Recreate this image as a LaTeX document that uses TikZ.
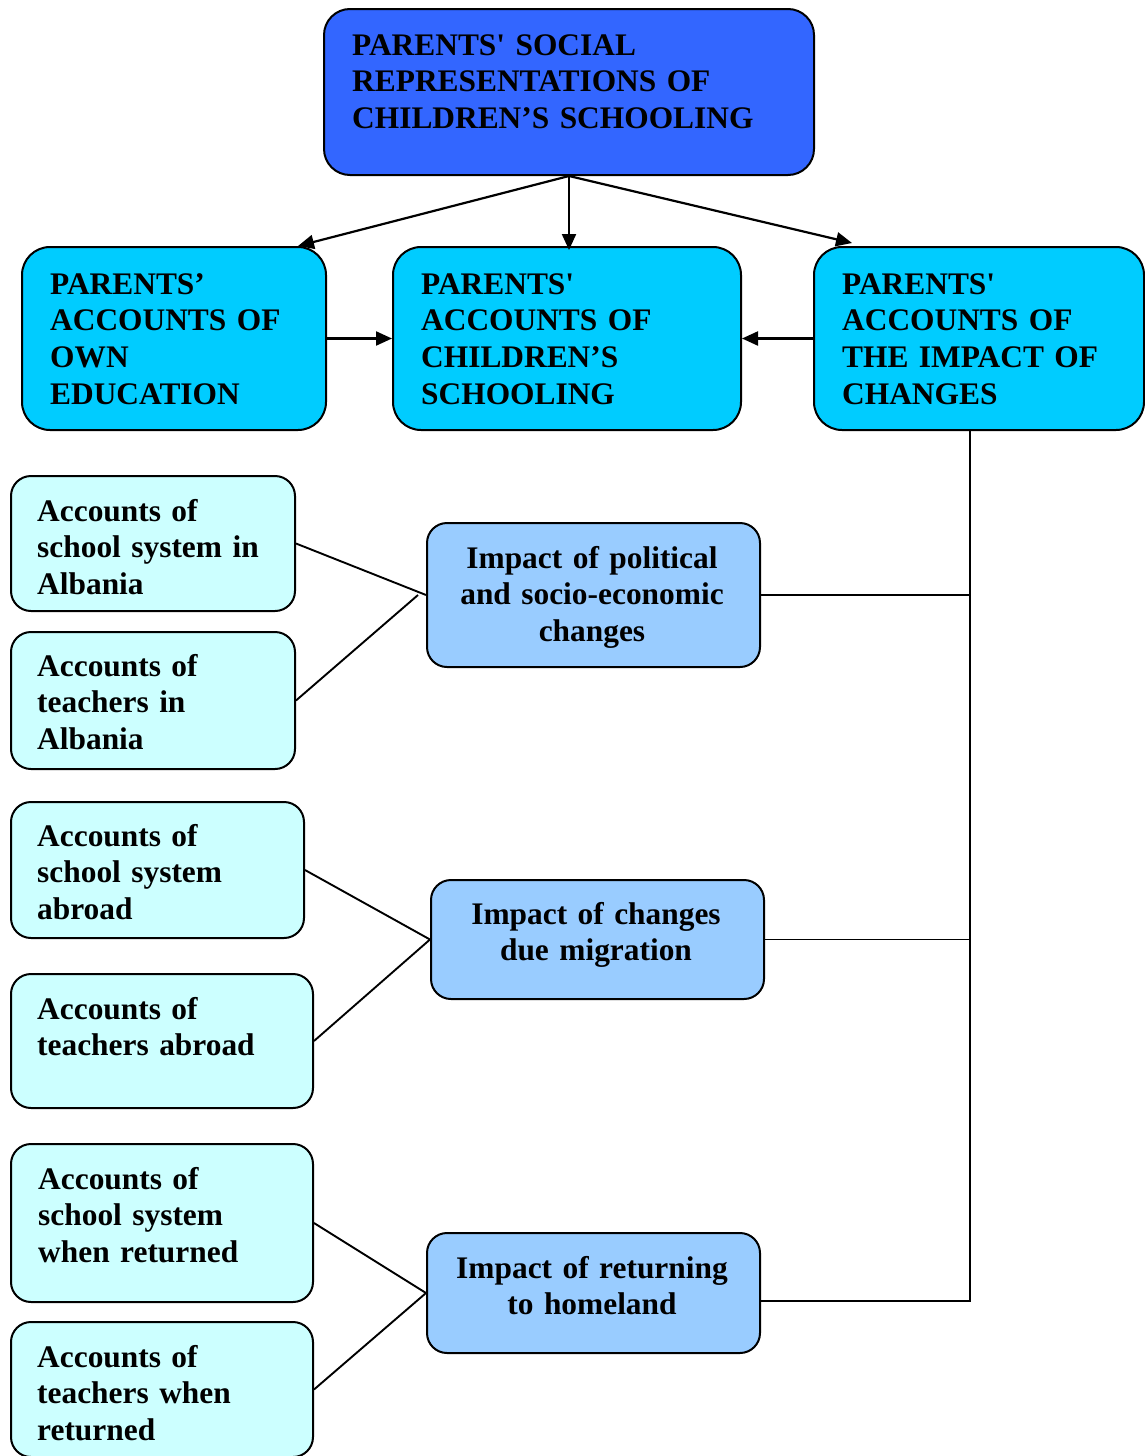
\documentclass[tikz,border=0pt]{standalone}
\usepackage{fontspec}
\setmainfont{Liberation Serif}
\usetikzlibrary{arrows.meta,calc}
\definecolor{deepblue}{HTML}{3366FF}
\definecolor{skyblue}{HTML}{00CCFF}
\definecolor{paleblue}{HTML}{CCFFFF}
\definecolor{midblue}{HTML}{99CCFF}
\begin{document}
\begin{tikzpicture}[x=1pt,y=-1pt,
  box/.style={draw=black,line width=2pt,inner sep=0pt,anchor=north west},
  headbox/.style={box,fill=deepblue,rounded corners=26pt},
  rowbox/.style={box,fill=skyblue,rounded corners=28pt},
  leafbox/.style={box,fill=paleblue,rounded corners=20pt},
  impbox/.style={box,fill=midblue,rounded corners=20pt},
  txt/.style={inner sep=0pt,anchor=base west,text width=420pt,align=left,
    font=\bfseries\fontsize{31.4}{36.8}\selectfont},
  ctxt/.style={inner sep=0pt,anchor=base,text width=330pt,align=center,
    font=\bfseries\fontsize{31.4}{36.8}\selectfont},
  arr/.style={line width=2.2pt,-{Triangle[length=16pt,width=14pt]}},
  link/.style={line width=1.9pt}]
\useasboundingbox (0,0) rectangle (1144,1456);

% top level
\node[headbox,minimum width=490pt,minimum height=166pt] (top) at (323,8) {};
\node[txt] (topt) at (352,55) {PARENTS\textquotesingle{} SOCIAL\\REPRESENTATIONS OF\\CHILDREN’S SCHOOLING};

% second row
\node[rowbox,minimum width=304pt,minimum height=183pt] (a) at (21,246) {};
\node[rowbox,minimum width=348pt,minimum height=183pt] (b) at (392,246) {};
\node[rowbox,minimum width=330pt,minimum height=183pt] (c) at (813,246) {};
\node[txt] (at) at (50,294) {PARENTS’\\ACCOUNTS OF\\OWN\\EDUCATION};
\node[txt] (bt) at (421,294) {PARENTS\textquotesingle\\ACCOUNTS OF\\CHILDREN’S\\SCHOOLING};
\node[txt] (ct) at (842,294) {PARENTS\textquotesingle\\ACCOUNTS OF\\THE IMPACT OF\\CHANGES};

% accounts on the left
\node[leafbox,minimum width=284pt,minimum height=135pt] (l1) at (10,475) {};
\node[leafbox,minimum width=284pt,minimum height=137pt] (l2) at (10,631) {};
\node[leafbox,minimum width=293pt,minimum height=136pt] (l3) at (10,801) {};
\node[leafbox,minimum width=302pt,minimum height=134pt] (l4) at (10,973) {};
\node[leafbox,minimum width=302pt,minimum height=158pt] (l5) at (10,1143) {};
\node[leafbox,minimum width=302pt,minimum height=135pt] (l6) at (10,1321) {};
\node[txt] (l1t) at (37,521) {Accounts of\\school system in\\Albania};
\node[txt] (l2t) at (37,676) {Accounts of\\teachers in\\Albania};
\node[txt] (l3t) at (37,846) {Accounts of\\school system\\abroad};
\node[txt] (l4t) at (37,1019) {Accounts of\\teachers abroad};
\node[txt] (l5t) at (38,1189) {Accounts of\\school system\\when returned};
\node[txt] (l6t) at (37,1367) {Accounts of\\teachers when\\returned};

% impact boxes
\node[impbox,minimum width=333pt,minimum height=144pt] (m1) at (426,522) {};
\node[impbox,minimum width=333pt,minimum height=119pt] (m2) at (430,879) {};
\node[impbox,minimum width=333pt,minimum height=120pt] (m3) at (426,1232) {};
\node[ctxt] (m1t) at (592,568) {Impact of political\\and socio-economic\\changes};
\node[ctxt] (m2t) at (596,924) {Impact of changes\\due migration};
\node[ctxt] (m3t) at (592,1278) {Impact of returning\\to homeland};

% arrows from the top box
\draw[arr] (top.south) -- ($(a.north east)+(-29,0)$);
\draw[arr] (top.south) -- ($(top.south |- b.north)+(0,4)$);
\draw[arr] (top.south) -- ($(c.north west)+(39,-3)$);
\draw[arr] (a.east) -- (b.west);
\draw[arr] (c.west) -- (b.east);

% bus from the right box to the impact boxes
\coordinate (bus) at (970,0);
\draw[link] (bus |- c.south) -- (bus |- {$(m3.east)+(0,8)$}) -- ($(m3.east)+(0,8)$);
\draw[link] (m1.east) -- (bus |- m1.east);
\draw[link] (m2.east) -- (bus |- m2.east);

% accounts feeding the impact boxes
\draw[link] (l1.east) -- (m1.west);
\draw[link] (l2.east) -- ($(m1.west)+(-8,0)$);
\draw[link] (l3.east) -- (m2.west);
\draw[link] (l4.east) -- (m2.west);
\draw[link] (l5.east) -- (m3.west);
\draw[link] (l6.east) -- (m3.west);
\end{tikzpicture}
\end{document}
